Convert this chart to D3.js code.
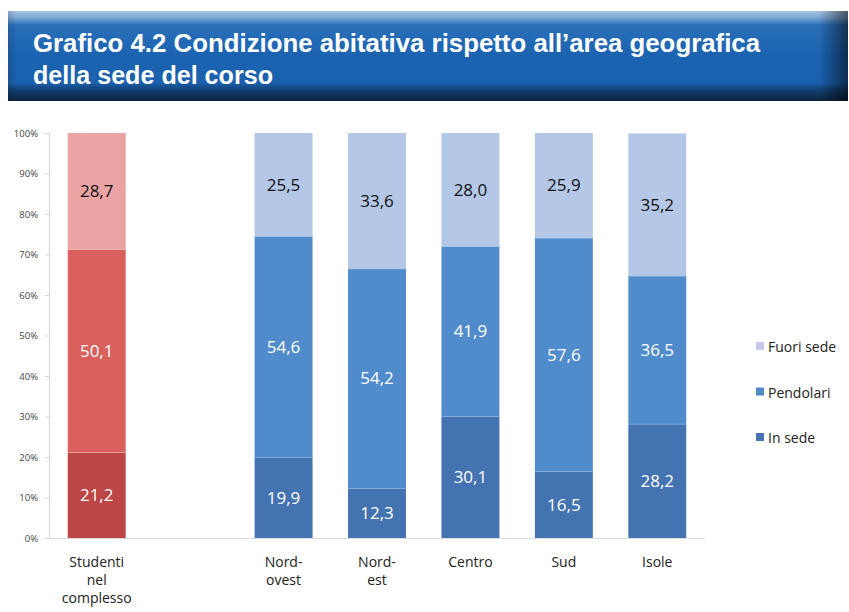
<!DOCTYPE html>
<html><head><meta charset="utf-8">
<script src="https://cdn.jsdelivr.net/npm/d3@7"></script>
<style>body{margin:0;background:#fff}svg{display:block}</style>
</head><body>
<svg id="c" width="849" height="612"></svg>
<script>
const categories = ["Studenti nel complesso", "", "Nord-ovest", "Nord-est", "Centro", "Sud", "Isole"];
const categoryLines = [["Studenti","nel","complesso"], [], ["Nord-","ovest"], ["Nord-","est"], ["Centro"], ["Sud"], ["Isole"]];
const inSede     = [21.2, null, 19.9, 12.3, 30.1, 16.5, 28.2];
const pendolari  = [50.1, null, 54.6, 54.2, 41.9, 57.6, 36.5];
const fuoriSede  = [28.7, null, 25.5, 33.6, 28.0, 25.9, 35.2];
const seriesNames = ["In sede", "Pendolari", "Fuori sede"];
const yTicks = [0,10,20,30,40,50,60,70,80,90,100];
const titleLines = ["Grafico 4.2 Condizione abitativa rispetto all\u2019area geografica", "della sede del corso"];

const svg = d3.select("#c");
const defs = svg.append("defs");

// Title banner
const g1 = defs.append("linearGradient").attr("id","bannerV").attr("x1",0).attr("y1",0).attr("x2",0).attr("y2",1);
g1.append("stop").attr("offset","0").attr("stop-color","#a7c4e4");
g1.append("stop").attr("offset","0.07").attr("stop-color","#7fa8d6");
g1.append("stop").attr("offset","0.16").attr("stop-color","#2a6fb9");
g1.append("stop").attr("offset","0.5").attr("stop-color","#1b63b1");
g1.append("stop").attr("offset","0.8").attr("stop-color","#1a60ad");
g1.append("stop").attr("offset","0.88").attr("stop-color","#133f72");
g1.append("stop").attr("offset","1").attr("stop-color","#0c2440");
const g2 = defs.append("linearGradient").attr("id","bannerH").attr("x1",0).attr("y1",0).attr("x2",1).attr("y2",0);
g2.append("stop").attr("offset","0").attr("stop-color","#000").attr("stop-opacity",0.15);
g2.append("stop").attr("offset","0.01").attr("stop-color","#000").attr("stop-opacity",0);
g2.append("stop").attr("offset","0.965").attr("stop-color","#000").attr("stop-opacity",0);
g2.append("stop").attr("offset","1").attr("stop-color","#000").attr("stop-opacity",0.55);
svg.append("rect").attr("x",8).attr("y",11).attr("width",840).attr("height",90).attr("fill","url(#bannerV)");
svg.append("rect").attr("x",8).attr("y",11).attr("width",840).attr("height",90).attr("fill","url(#bannerH)");
svg.append("text")
  .attr("fill","#fff").attr("font-family","'Liberation Sans', Arial, sans-serif")
  .attr("font-weight",700).attr("font-size",26)
  .selectAll("tspan").data(titleLines).join("tspan")
  .attr("x",33).attr("y",(d,i)=>52+i*32)
  .attr("textLength",(d,i)=> i===0 ? 727 : 240).attr("lengthAdjust","spacingAndGlyphs")
  .text(d=>d);

// Scales
const x = d3.scaleBand().domain(d3.range(categories.length)).range([50,704]).paddingInner(0.38).paddingOuter(0.19);
const y = d3.scaleLinear().domain([0,100]).range([538,133]);

// Axes
const yAxis = d3.axisLeft(y).tickValues(yTicks).tickFormat(d=>d+"%").tickSize(4).tickPadding(7);
const ya = svg.append("g").attr("transform","translate(49,0)").call(yAxis);
ya.select(".domain").attr("stroke","#d6d6d6");
ya.selectAll(".tick line").attr("stroke","#d6d6d6");
ya.selectAll(".tick text").attr("fill","#444").attr("font-family","'Open Sans', sans-serif").attr("font-size",9.5);

svg.append("line").attr("x1",49).attr("x2",705).attr("y1",538.5).attr("y2",538.5).attr("stroke","#dcdcdc");

// Stacked data
const rows = categories.map((c,i)=>({i, "In sede":inSede[i], "Pendolari":pendolari[i], "Fuori sede":fuoriSede[i]}))
  .filter(r=>r["In sede"]!==null);
const stack = d3.stack().keys(seriesNames)(rows);

const colors = {
  red: {"In sede":"#bc4545","Pendolari":"#d9605c","Fuori sede":"#eba4a3"},
  blue:{"In sede":"#4473b1","Pendolari":"#508bcc","Fuori sede":"#b4c7e7"}
};
const labelColor = {"In sede":"#fff","Pendolari":"#fff","Fuori sede":"#111"};

stack.forEach(layer=>{
  const key = layer.key;
  const g = svg.append("g");
  g.selectAll("rect").data(layer).join("rect")
    .attr("x",d=>x(d.data.i))
    .attr("width",x.bandwidth())
    .attr("y",d=>y(Math.min(d[1],100)))
    .attr("height",d=>y(d[0])-y(Math.min(d[1],100)))
    .attr("fill",d=> d.data.i===0 ? colors.red[key] : colors.blue[key]);
  if(key!=="Fuori sede"){
    g.selectAll("line").data(layer).join("line")
      .attr("x1",d=>x(d.data.i)).attr("x2",d=>x(d.data.i)+x.bandwidth())
      .attr("y1",d=>y(d[1])).attr("y2",d=>y(d[1]))
      .attr("stroke",d=> d.data.i===0 ? "#f3c9c5" : "#9fc0e6").attr("stroke-width",1.2);
  }
  g.selectAll("text").data(layer).join("text")
    .attr("x",d=>x(d.data.i)+x.bandwidth()/2)
    .attr("y",d=>y((d[0]+Math.min(d[1],100))/2)+6)
    .attr("text-anchor","middle")
    .attr("fill",labelColor[key])
    .attr("font-family","'Open Sans', sans-serif").attr("font-size",17)
    .text(d=>d3.format(".1f")(d.data[key]).replace(".",","));
});

// Category labels
categoryLines.forEach((lines,i)=>{
  svg.append("text")
    .attr("x",x(i)+x.bandwidth()/2).attr("y",567)
    .attr("text-anchor","middle").attr("fill","#222")
    .attr("font-family","'Open Sans', sans-serif").attr("font-size",14)
    .selectAll("tspan").data(lines).join("tspan")
    .attr("x",x(i)+x.bandwidth()/2).attr("dy",(d,k)=>k===0?0:"1.28em").text(d=>d);
});

// Legend
const legendItems = ["Fuori sede","Pendolari","In sede"];
const legendColors = {"Fuori sede":"#c6c9e9","Pendolari":"#508bcc","In sede":"#4473b1"};
const lg = svg.append("g");
legendItems.forEach((k,i)=>{
  const yy = 347 + i*45.5;
  lg.append("rect").attr("x",756).attr("y",yy-5).attr("width",8).attr("height",8).attr("fill",legendColors[k]);
  lg.append("text").attr("x",768).attr("y",yy+5).attr("fill","#222")
    .attr("font-family","'Open Sans', sans-serif").attr("font-size",14).text(k);
});
</script>
</body></html>
